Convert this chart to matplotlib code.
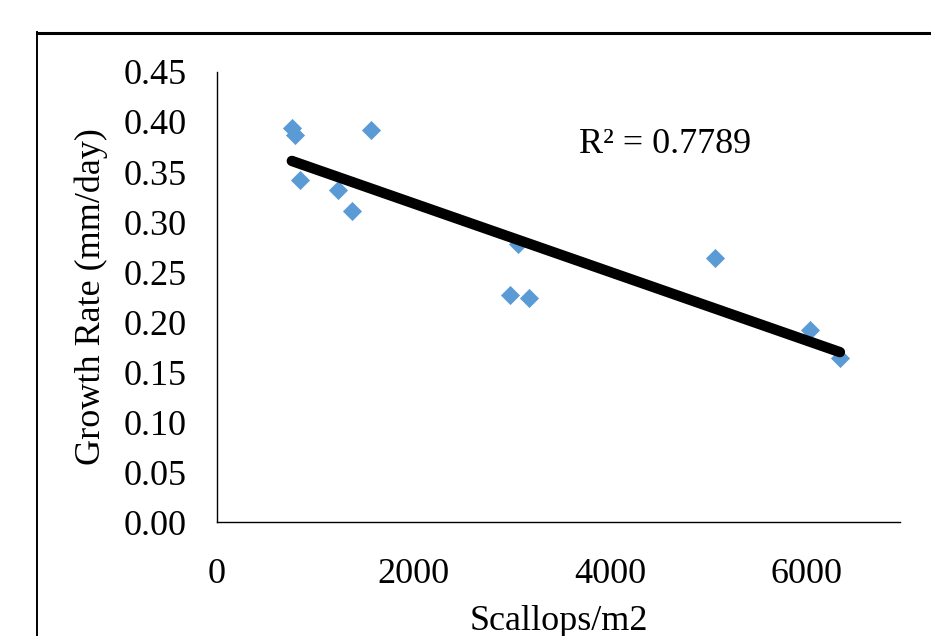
import numpy as np
import matplotlib
matplotlib.use("Agg")
import matplotlib.pyplot as plt
from matplotlib.lines import Line2D

plt.rcParams["font.family"] = ["Liberation Serif", "DejaVu Serif"]

# 散布点
density = [761, 792, 843, 1228, 1371, 1563, 2975, 3066, 3178, 5066, 6030, 6335]
growth = [0.394, 0.387, 0.342, 0.332, 0.311, 0.392, 0.227, 0.278, 0.224, 0.264, 0.192, 0.164]
r2_label = "R² = 0.7789"

x_ticks = [0, 2000, 4000, 6000]
y_ticks = [i * 0.05 for i in range(10)]

fig = plt.figure(figsize=(9.31, 6.36), dpi=100)
ax = fig.add_axes([0.2331, 0.1792, 0.734, 0.7076])

ax.scatter(density, growth, marker="D", s=95, color="#5B9BD5", zorder=2, linewidths=0)

# 線形近似
k, b = np.polyfit(density, growth, 1)
xs = np.array([min(density), max(density)])
ax.plot(xs, k * xs + b, color="black", lw=7.5, solid_capstyle="round", zorder=3)

ax.text(3680, 0.378, r2_label, fontsize=26, va="center", ha="left")

ax.set_xlim(0, 6950)
ax.set_ylim(0, 0.45)
ax.set_xticks(x_ticks)
ax.set_yticks(y_ticks)
ax.set_yticklabels([f"{v:.2f}" for v in y_ticks])
ax.tick_params(length=0, labelsize=26)
ax.tick_params(axis="x", pad=26)
ax.tick_params(axis="y", pad=22)

for side in ["top", "right"]:
    ax.spines[side].set_visible(False)
for side in ["left", "bottom"]:
    ax.spines[side].set_linewidth(1.0)

ax.set_xlabel("Scallops/m2", fontsize=26, labelpad=10)
ax.set_ylabel("Growth Rate (mm/day)", fontsize=26, labelpad=11)

# 外枠（上と左だけ見える）
W, H = 931, 636
fig.add_artist(Line2D([37 / W, 1.0], [1 - 33 / H, 1 - 33 / H], color="black", lw=2.2,
                      transform=fig.transFigure))
fig.add_artist(Line2D([37 / W, 37 / W], [1 - 32 / H, 0.0], color="black", lw=1.4,
                      transform=fig.transFigure))

fig.savefig("out.png", dpi=100)
